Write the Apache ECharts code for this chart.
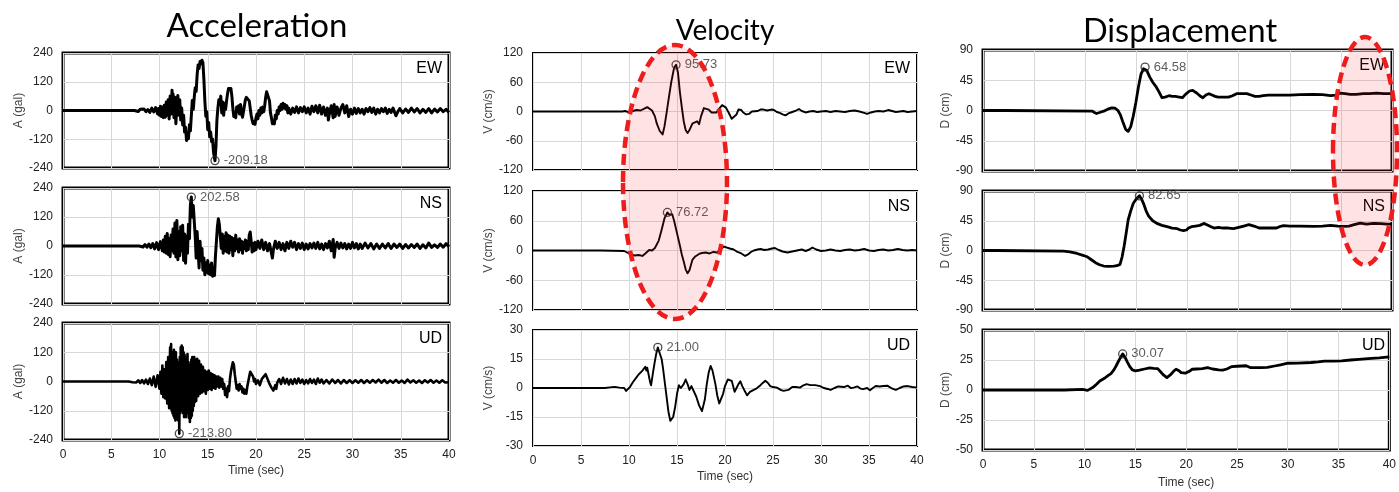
<!DOCTYPE html>
<html><head><meta charset="utf-8">
<script src="https://cdn.jsdelivr.net/npm/echarts@6/dist/echarts.min.js"></script>
<style>html,body{margin:0;padding:0;background:#fff}#c{width:1399px;height:492px}</style>
</head><body><div id="c"></div>
<script>
// ---------- DATA (time in s, value) ----------
const timeTicks = [0,5,10,15,20,25,30,35,40];
const components = ['EW','NS','UD'];
const columnTitles = ['Acceleration','Velocity','Displacement'];
const yNames = ['A (gal)','V (cm/s)','D (cm)'];

const accEW = [[0,0],[7.4,0],[7.6,3],[7.8,-4],[8.0,5],[8.2,-3],[8.4,6],[8.6,-5],[8.8,4],[9.0,-8],[9.2,10],[9.4,-6],[9.6,12],[9.8,-14],[9.9,8],[10.0,-20],[10.1,18],[10.2,-25],[10.3,15],[10.4,-30],[10.5,22],[10.6,-28],[10.7,35],[10.8,-20],[10.9,45],[11.0,-35],[11.1,60],[11.2,-15],[11.3,85],[11.35,40],[11.4,70],[11.5,-30],[11.6,55],[11.7,-55],[11.8,30],[11.9,63],[12.0,-20],[12.1,45],[12.2,-40],[12.3,10],[12.4,-60],[12.5,-20],[12.6,-90],[12.7,-70],[12.8,-125],[12.9,-95],[13.0,-118],[13.1,-60],[13.2,-85],[13.3,-20],[13.4,42],[13.5,5],[13.6,55],[13.7,95],[13.8,80],[13.9,150],[14.0,190],[14.1,175],[14.2,205],[14.3,195],[14.4,210],[14.5,200],[14.6,130],[14.7,40],[14.8,-25],[14.9,-5],[15.0,-80],[15.1,-50],[15.2,-110],[15.3,-90],[15.4,-130],[15.5,-120],[15.6,-175],[15.75,-209.18],[15.85,-150],[15.95,-40],[16.05,10],[16.15,45],[16.25,25],[16.35,60],[16.45,-10],[16.55,35],[16.65,-20],[16.75,30],[16.85,5],[16.95,40],[17.05,70],[17.15,92],[17.3,85],[17.4,92],[17.5,60],[17.6,10],[17.7,-25],[17.8,-10],[17.9,-30],[18.0,15],[18.1,-5],[18.2,20],[18.3,-15],[18.4,25],[18.5,-10],[18.6,-28],[18.7,-5],[18.8,20],[18.9,45],[19.0,55],[19.1,50],[19.2,57],[19.3,40],[19.4,10],[19.5,-20],[19.6,-40],[19.7,-55],[19.8,-45],[19.9,-58],[20.0,-30],[20.1,-15],[20.2,-35],[20.3,0],[20.4,-20],[20.5,10],[20.6,-10],[20.7,15],[20.8,-5],[20.9,20],[21.0,55],[21.1,78],[21.2,70],[21.3,78],[21.4,40],[21.5,-10],[21.6,-30],[21.7,-55],[21.8,-45],[21.9,-56],[22.0,-20],[22.1,-35],[22.2,0],[22.3,-15],[22.4,15],[22.5,0],[22.6,25],[22.7,5],[22.8,30],[22.9,10],[23.0,25],[23.1,5],[23.2,20],[23.3,-10],[23.4,10],[23.6,-15],[23.8,10],[24.0,-8],[24.2,15],[24.4,-10],[24.6,12],[24.8,-5],[25.0,15],[25.2,-10],[25.4,10],[25.6,-15],[25.8,18],[26.0,-5],[26.2,20],[26.4,-10],[26.6,22],[26.8,-15],[27.0,15],[27.2,-20],[27.4,10],[27.5,-40],[27.6,-15],[27.8,20],[28.0,-30],[28.1,25],[28.2,-25],[28.4,15],[28.6,-20],[28.8,10],[29.0,25],[29.2,-10],[29.4,20],[29.6,-25],[29.8,5],[30.0,-15],[30.2,10],[30.4,-12],[30.6,8],[30.8,-10],[31.0,5],[31.2,-15],[31.4,8],[31.6,-5],[31.8,12],[32.0,-8],[32.2,10],[32.4,-15],[32.6,5],[32.8,-10],[33.0,8],[33.2,-5],[33.4,10],[33.6,-12],[33.8,5],[34.0,-8],[34.2,10],[34.5,-22],[34.7,-5],[34.9,8],[35.2,-10],[35.5,6],[35.8,-8],[36.1,10],[36.4,-6],[36.7,8],[37.0,-10],[37.3,5],[37.6,-8],[37.9,8],[38.2,-10],[38.5,6],[38.8,-6],[39.1,8],[39.4,-5],[39.7,5],[40,-8]];

const accNS = [[0,0],[7.9,0],[8.1,3],[8.3,-4],[8.5,6],[8.7,-5],[8.9,8],[9.1,-7],[9.3,10],[9.5,-12],[9.7,14],[9.9,-15],[10.1,18],[10.3,-20],[10.4,25],[10.5,-25],[10.6,40],[10.7,-30],[10.8,52],[10.9,-35],[11.0,30],[11.1,-44],[11.2,45],[11.3,-20],[11.4,70],[11.5,-30],[11.6,95],[11.7,-45],[11.8,106],[11.9,-57],[12.0,60],[12.1,-40],[12.2,80],[12.3,-20],[12.4,86],[12.5,-60],[12.6,50],[12.7,-71],[12.8,40],[12.9,-30],[13.0,90],[13.1,30],[13.2,170],[13.3,202.58],[13.4,120],[13.5,168],[13.6,160],[13.7,40],[13.8,-50],[13.9,60],[14.0,-20],[14.1,-91],[14.2,20],[14.3,-60],[14.4,-10],[14.5,-100],[14.6,-50],[14.7,-119],[14.8,-70],[14.9,-110],[15.0,-60],[15.1,-115],[15.2,-80],[15.3,-119],[15.4,-70],[15.5,-125],[15.6,-90],[15.7,-122],[15.8,-40],[15.9,20],[16.0,80],[16.1,113],[16.2,90],[16.3,40],[16.4,-10],[16.5,50],[16.6,-30],[16.7,40],[16.8,-20],[16.9,55],[17.0,-25],[17.1,45],[17.2,-30],[17.3,40],[17.4,-15],[17.5,35],[17.6,-40],[17.7,30],[17.8,-20],[17.9,45],[18.0,-10],[18.1,25],[18.2,-25],[18.3,30],[18.4,-15],[18.5,20],[18.6,-30],[18.7,15],[18.8,-10],[18.9,25],[19.0,-20],[19.1,20],[19.2,-15],[19.3,45],[19.4,58],[19.5,20],[19.6,-25],[19.7,10],[19.8,-20],[19.9,15],[20.0,-15],[20.2,20],[20.4,-10],[20.6,25],[20.8,-15],[21.0,15],[21.2,-20],[21.4,10],[21.6,-30],[21.7,-50],[21.8,-15],[22.0,20],[22.2,-10],[22.4,15],[22.6,-15],[22.8,10],[23.0,-20],[23.2,15],[23.4,-10],[23.6,20],[23.8,-5],[24.0,15],[24.2,-15],[24.4,10],[24.6,-10],[24.8,12],[25.0,-15],[25.2,8],[25.4,-12],[25.6,10],[25.8,-8],[26.0,12],[26.2,-10],[26.4,15],[26.6,-12],[26.8,8],[27.0,-15],[27.2,10],[27.4,-8],[27.6,20],[27.8,-20],[28.0,27],[28.1,-47],[28.2,-10],[28.4,15],[28.6,-10],[28.8,12],[29.0,-8],[29.2,10],[29.4,-12],[29.6,8],[29.8,-10],[30.0,15],[30.2,-8],[30.4,10],[30.6,-12],[30.8,8],[31.0,-10],[31.3,12],[31.6,-8],[31.9,10],[32.2,-12],[32.5,8],[32.8,-10],[33.1,8],[33.4,-8],[33.7,10],[34.0,-10],[34.3,8],[34.6,-6],[34.9,8],[35.2,-10],[35.5,6],[35.8,-8],[36.1,6],[36.4,-6],[36.7,8],[37.0,-10],[37.3,5],[37.6,-8],[37.9,12],[38.2,-6],[38.5,5],[38.8,-6],[39.1,8],[39.4,-5],[39.7,10],[40,-3]];

const accUD = [[0,0],[6.8,0],[7.0,3],[7.2,-3],[7.4,4],[7.6,-4],[7.8,5],[8.0,-6],[8.2,6],[8.4,-8],[8.6,8],[8.8,-10],[9.0,12],[9.2,-15],[9.4,20],[9.6,-22],[9.8,25],[10.0,-30],[10.1,40],[10.2,-50],[10.3,65],[10.4,-64],[10.5,50],[10.6,-70],[10.7,80],[10.8,-90],[10.9,100],[11.0,-110],[11.1,140],[11.15,-100],[11.2,154],[11.25,-119],[11.3,120],[11.35,-130],[11.4,110],[11.45,-140],[11.5,130],[11.55,-150],[11.6,100],[11.65,-160],[11.7,120],[11.75,-140],[11.8,90],[11.85,-155],[11.9,80],[11.95,-160],[12.0,60],[12.05,-213.8],[12.1,100],[12.15,-130],[12.2,140],[12.25,-120],[12.3,147],[12.35,-100],[12.4,140],[12.45,-130],[12.5,120],[12.55,-146],[12.6,110],[12.65,-120],[12.7,100],[12.75,-146],[12.8,90],[12.85,-130],[12.9,113],[12.95,-120],[13.0,80],[13.05,-150],[13.1,70],[13.15,-166],[13.2,60],[13.25,-150],[13.3,90],[13.35,-140],[13.4,100],[13.45,-120],[13.5,80],[13.55,-100],[13.6,100],[13.65,-85],[13.7,90],[13.8,-80],[13.9,93],[14.0,-60],[14.1,85],[14.2,-50],[14.3,70],[14.4,-45],[14.5,60],[14.6,-40],[14.7,45],[14.8,-50],[14.9,40],[15.0,-35],[15.1,45],[15.2,-30],[15.3,35],[15.4,-35],[15.5,30],[15.6,-25],[15.7,25],[15.8,-30],[15.9,20],[16.0,-20],[16.1,20],[16.2,-25],[16.3,15],[16.4,-20],[16.5,10],[16.6,-30],[16.7,-10],[16.8,-55],[16.9,-30],[17.0,-64],[17.1,-20],[17.2,-40],[17.3,10],[17.4,40],[17.5,60],[17.6,79],[17.7,70],[17.8,30],[17.9,0],[18.0,-30],[18.1,-15],[18.2,-37],[18.3,-10],[18.4,-30],[18.5,-20],[18.6,-45],[18.7,-30],[18.8,-50],[18.9,-35],[19.0,-50],[19.1,-20],[19.2,0],[19.3,20],[19.4,40],[19.5,45],[19.6,35],[19.7,20],[19.8,0],[19.9,10],[20.0,-10],[20.2,5],[20.4,-15],[20.6,10],[20.8,20],[21.0,30],[21.1,20],[21.2,25],[21.4,-10],[21.6,-25],[21.8,-37],[22.0,-15],[22.1,-30],[22.2,-5],[22.4,10],[22.6,-10],[22.8,15],[23.0,-8],[23.2,10],[23.4,-12],[23.6,8],[23.8,-10],[24.0,10],[24.2,-8],[24.4,12],[24.6,-6],[24.8,8],[25.0,-10],[25.2,6],[25.4,-8],[25.6,10],[25.8,-6],[26.0,8],[26.2,-10],[26.4,12],[26.6,-5],[26.8,8],[27.0,-8],[27.3,6],[27.6,-8],[27.9,8],[28.2,-6],[28.5,6],[28.8,-8],[29.1,6],[29.4,-6],[29.7,5],[30.0,-6],[30.3,5],[30.6,-5],[30.9,6],[31.2,-6],[31.5,5],[31.8,-5],[32.1,6],[32.4,-4],[32.7,8],[33.0,-5],[33.3,6],[33.6,-6],[33.9,4],[34.2,-5],[34.5,6],[34.8,-5],[35.1,4],[35.4,-6],[35.7,8],[36.0,-4],[36.3,5],[36.6,-5],[36.9,4],[37.2,-6],[37.5,5],[37.8,-4],[38.1,6],[38.4,-5],[38.7,4],[39.0,-5],[39.3,5],[39.6,-4],[40,-3]];

const velEW = [[0,0],[9.3,0],[9.6,1],[10.0,-2],[10.4,1],[10.8,3],[11.2,2],[11.6,6],[11.9,9],[12.1,6],[12.4,2],[12.7,-10],[12.9,-25],[13.2,-40],[13.5,-47],[13.7,-30],[13.9,-5],[14.1,22],[14.4,60],[14.7,90],[14.9,95.73],[15.1,80],[15.3,40],[15.5,9],[15.7,-20],[15.9,-38],[16.1,-44],[16.3,-38],[16.6,-25],[16.8,-22],[17.1,-20],[17.3,-26],[17.5,-10],[17.8,7],[18.0,8],[18.3,4],[18.6,-2],[18.8,-6],[19.1,-2],[19.4,6],[19.7,13],[19.9,14],[20.1,8],[20.4,-3],[20.7,-15],[20.9,-17],[21.2,-6],[21.4,4],[21.7,3],[21.9,-2],[22.2,-6],[22.5,-5],[22.8,0],[23.0,2],[23.4,1],[23.7,4],[24.0,4],[24.4,2],[24.8,4],[25.1,3],[25.4,-1],[25.7,-3],[26.0,-6],[26.3,-8],[26.6,-4],[27.0,-1],[27.4,2],[27.7,5],[28.0,1],[28.4,-2],[28.8,0],[29.2,1],[29.6,-1],[30.0,0],[30.5,1],[31.0,-1],[31.5,1],[32.0,0],[32.5,-1],[33.0,1],[33.5,2],[34.0,0],[34.5,-3],[34.8,-5],[35.2,-2],[35.6,0],[36.0,1],[36.5,0],[37.0,3],[37.4,1],[37.8,-1],[38.2,0],[38.6,1],[39.0,-1],[39.5,0],[40,1]];

const velNS = [[0,0],[7.0,0],[7.1,-1],[9.5,-1],[9.8,-4],[10.2,-8],[10.6,-10],[11.0,-9],[11.4,-11],[11.7,-6],[11.9,-3],[12.1,1],[12.4,0],[12.7,5],[12.9,8],[13.1,20],[13.4,42],[13.7,65],[14.0,76.72],[14.2,72],[14.5,73],[14.7,60],[15.0,35],[15.3,10],[15.5,-8],[15.7,-22],[15.9,-38],[16.1,-46],[16.3,-40],[16.6,-19],[16.9,-12],[17.3,-7],[17.6,-5],[18.0,-4],[18.4,-6],[18.8,-3],[19.2,-4],[19.5,2],[19.9,8],[20.2,6],[20.5,4],[20.9,2],[21.3,-3],[21.7,-6],[22.1,-11],[22.4,-8],[22.7,-3],[23.0,0],[23.4,2],[23.7,3],[24.1,1],[24.5,2],[24.9,4],[25.2,5],[25.6,1],[26.0,-2],[26.5,-4],[27.0,-2],[27.5,0],[28.0,2],[28.4,-1],[28.8,2],[29.1,6],[29.5,2],[30.0,-1],[30.5,0],[31.0,2],[31.5,0],[32.0,-1],[32.5,1],[33.0,2],[33.5,0],[34.0,1],[34.5,3],[35.0,0],[35.5,-1],[36.0,1],[36.5,2],[37.0,0],[37.5,1],[38.0,3],[38.5,1],[39.0,0],[39.5,1],[40,0]];

const velUD = [[0,0],[7.5,0],[8.0,0.3],[8.5,0.6],[9.0,0.2],[9.2,1],[9.5,0],[9.7,-1.5],[9.9,-1],[10.1,0.5],[10.4,3],[10.7,5],[11.0,7],[11.2,8],[11.4,9],[11.5,10],[11.7,11],[11.8,9],[11.9,10.5],[12.0,8],[12.2,3],[12.3,1.4],[12.5,8],[12.7,14],[12.85,18],[13.0,21.0],[13.2,18],[13.4,15],[13.55,10],[13.7,4],[13.9,-4],[14.1,-12],[14.3,-17],[14.4,-18],[14.6,-15],[14.8,-10],[15.0,-3],[15.2,1.4],[15.4,0],[15.5,-1],[15.7,2],[15.9,4.4],[16.1,2],[16.3,-1],[16.5,1],[16.7,0],[17.0,-4.4],[17.3,-9],[17.6,-12],[17.9,-6],[18.1,2],[18.3,8],[18.5,11.4],[18.7,9],[19.0,2],[19.2,-4],[19.4,-8],[19.6,-7],[19.8,-3],[20.0,1],[20.3,4.4],[20.5,4],[20.7,3.7],[20.9,0],[21.0,-2],[21.2,0],[21.4,2],[21.6,3.5],[21.8,1],[22.0,-1],[22.3,-3.8],[22.6,-2],[22.9,-1.2],[23.2,-0.5],[23.6,1],[23.9,2.5],[24.2,3.7],[24.5,2.5],[24.7,1],[25.0,0.5],[25.4,0.2],[25.8,-1],[26.1,-1.5],[26.3,-2],[26.6,-1],[27.0,0.5],[27.4,0.5],[27.8,0.2],[28.1,1.2],[28.5,2],[28.9,1.5],[29.4,1.5],[29.9,1],[30.3,0],[30.7,-0.5],[31.0,-1],[31.4,0],[31.8,0.8],[32.0,1],[32.4,0.5],[32.8,1.2],[33.1,0],[33.4,0.2],[33.8,0.8],[34.1,-0.3],[34.4,-0.6],[34.8,0],[35.1,-1.2],[35.4,0],[35.7,1],[36.1,0.8],[36.5,1],[36.9,1.2],[37.2,0.3],[37.5,-0.5],[37.8,-1],[38.2,0],[38.6,0.8],[39.0,1],[39.5,0.5],[40,0.2]];

const dispEW = [[0,0],[2.1,0],[2.2,-1],[10.7,-1],[10.9,-3],[11.1,-4.5],[11.4,-3],[11.8,-1],[12.2,2],[12.6,4],[12.9,3.5],[13.2,0],[13.45,-7],[13.7,-18],[13.95,-28],[14.2,-31],[14.45,-24],[14.7,-8],[14.95,12],[15.2,35],[15.45,54],[15.7,62],[15.85,64.58],[16.0,60],[16.3,50],[16.6,42],[16.9,36],[17.2,28],[17.5,19],[17.8,20],[18.2,22],[18.5,21],[18.8,21],[19.2,20],[19.5,19],[19.8,24],[20.2,29],[20.5,30],[20.9,26],[21.2,22],[21.5,19],[21.8,23],[22.1,25],[22.4,23],[22.7,21],[23.0,20],[23.5,20],[24.0,20],[24.4,22],[24.8,25],[25.3,25],[25.8,25],[26.2,23],[26.6,21],[27.0,21],[27.4,22],[27.9,23],[28.4,23],[29.0,23],[30.0,23],[31.0,23.5],[32.3,24],[33.2,23.5],[34.0,22],[34.5,23],[34.9,26],[35.4,25],[35.9,24],[36.5,24],[37.2,25],[37.8,25],[38.5,26],[39.2,25],[40,25]];

const dispNS = [[0,0],[1.3,0],[1.4,-1],[7.9,-1],[8.5,-2],[9.2,-4.5],[9.7,-7],[10.2,-9.5],[10.6,-14],[11.0,-18.5],[11.4,-21.5],[11.8,-23.5],[12.3,-24],[12.8,-23.5],[13.1,-23],[13.4,-21],[13.6,-10],[13.8,6.5],[14.0,26],[14.2,46.5],[14.45,60],[14.7,71.5],[15.0,78],[15.3,82.65],[15.5,78],[15.7,71],[15.95,60],[16.2,52],[16.6,45],[17.0,41],[17.5,38],[18.0,36],[18.5,34],[19.0,33],[19.3,31],[19.6,30],[19.9,31],[20.1,34],[20.4,36],[20.8,37],[21.2,38],[21.6,41],[21.9,39],[22.3,36],[22.6,34],[23.0,35],[23.5,34],[24.0,34],[24.5,33],[25.0,35],[25.5,37],[26.0,39],[26.5,37],[27.0,34],[27.5,34],[28.0,34],[28.7,34],[29.0,36],[29.4,37.5],[30.0,37],[31.0,37],[32.3,36.5],[33.2,37],[34.0,38],[34.7,37],[35.3,36.5],[35.8,37],[36.3,39],[36.9,41.5],[37.5,40],[38.2,41],[38.9,40.5],[39.5,40],[40,40]];

const dispUD = [[0,0],[8.0,0],[8.1,0.5],[9.8,0.5],[10.3,-0.3],[10.8,2],[11.2,5],[11.5,7.5],[12.0,10],[12.3,12],[12.6,13.7],[12.9,17],[13.1,20],[13.4,25],[13.75,30.07],[14.0,27],[14.2,23.5],[14.45,19.5],[14.7,16.7],[15.0,16],[15.4,16.5],[15.9,17.5],[16.4,18.4],[16.8,18],[17.2,17.8],[17.5,15],[17.7,13],[18.1,10.3],[18.5,13],[18.8,16],[19.0,17.3],[19.3,16],[19.5,14.5],[19.9,14],[20.3,15.5],[20.6,17.3],[21.0,17.5],[21.6,17.8],[22.1,18.7],[22.6,17.5],[23.2,16.7],[23.6,16.5],[24.0,17.5],[24.5,19.5],[25.0,19.8],[25.5,20],[25.9,20.2],[26.3,18.7],[27.0,18.7],[27.4,18.7],[28.0,18.8],[28.7,20],[29.3,21],[30.0,22.3],[31.0,22.4],[32.3,22.9],[33.0,23.4],[33.6,24],[34.5,24],[35.3,24.3],[36.2,25],[37.0,25.6],[37.9,26.2],[39.0,26.8],[40,27.6]];

// peak markers [time, value]
const peakAccEW = [15.75, -209.18];
const peakAccNS = [13.3, 202.58];
const peakAccUD = [12.05, -213.80];
const peakVelEW = [14.9, 95.73];
const peakVelNS = [14.0, 76.72];
const peakVelUD = [13.0, 21.00];
const peakDispEW = [15.85, 64.58];
const peakDispNS = [15.3, 82.65];
const peakDispUD = [13.75, 30.07];

// y axis ranges [min, max, interval]
const yRangeAcc = [-240, 240, 120];
const yRangeVel = [-120, 120, 60];
const yRangeVelUD = [-30, 30, 15];
const yRangeDisp = [-90, 90, 45];
const yRangeDispUD = [-50, 50, 25];

// ---------- LAYOUT ----------
const panels = [
  {d:accEW, p:peakAccEW, r:yRangeAcc, col:0, row:0, g:[63,53,386,115], lw:3, bw:3},
  {d:accNS, p:peakAccNS, r:yRangeAcc, col:0, row:1, g:[63,188,386,116], lw:3, bw:3},
  {d:accUD, p:peakAccUD, r:yRangeAcc, col:0, row:2, g:[63,323,386,117], lw:2.6, bw:3},
  {d:velEW, p:peakVelEW, r:yRangeVel, col:1, row:0, g:[533,53,384,117], lw:1.9, bw:2},
  {d:velNS, p:peakVelNS, r:yRangeVel, col:1, row:1, g:[533,191,384,119], lw:1.9, bw:2},
  {d:velUD, p:peakVelUD, r:yRangeVelUD, col:1, row:2, g:[533,330,384,116], lw:1.9, bw:2},
  {d:dispEW, p:peakDispEW, r:yRangeDisp, col:2, row:0, g:[983,50,409,121], lw:2.8, bw:3},
  {d:dispNS, p:peakDispNS, r:yRangeDisp, col:2, row:1, g:[983,191,409,119], lw:2.8, bw:3},
  {d:dispUD, p:peakDispUD, r:yRangeDispUD, col:2, row:2, g:[983,330,409,120], lw:2.8, bw:3}
];
const yNameGap = [30, 38, 30];
const xNameGap = [25, 25, 27];

const FONT = '"Liberation Sans", Arial, sans-serif';
const grids = [], xAxes = [], yAxes = [], series = [], graphics = [];

panels.forEach((pn, i) => {
  const [l, t, w, h] = pn.g;
  grids.push({left:l, top:t, width:w, height:h, show:true, borderColor:'#000', borderWidth:pn.bw, backgroundColor:'transparent'});
  const bottom = pn.row === 2;
  xAxes.push({
    type:'value', gridIndex:i, min:timeTicks[0], max:timeTicks[timeTicks.length-1], interval:timeTicks[1]-timeTicks[0],
    axisLine:{show:false}, axisTick:{show:false},
    axisLabel:{show:bottom, color:'#222', fontSize:12, fontFamily:FONT, margin:9},
    splitLine:{show:true, lineStyle:{color:'#d8d8d8', width:1}},
    name: bottom ? 'Time (sec)' : '', nameLocation:'middle', nameGap:xNameGap[pn.col],
    nameTextStyle:{color:'#333', fontSize:12, fontFamily:FONT}
  });
  yAxes.push({
    type:'value', gridIndex:i, min:pn.r[0], max:pn.r[1], interval:pn.r[2],
    axisLine:{show:false}, axisTick:{show:false},
    axisLabel:{color:'#222', fontSize:12, fontFamily:FONT, margin:10},
    splitLine:{show:true, lineStyle:{color:'#d8d8d8', width:1}},
    name:yNames[pn.col], nameLocation:'middle', nameGap:yNameGap[pn.col],
    nameTextStyle:{color:'#444', fontSize:12, fontFamily:FONT}
  });
  series.push({
    type:'line', xAxisIndex:i, yAxisIndex:i, data:pn.d, showSymbol:false, symbol:'none',
    lineStyle:{color:'#000', width:pn.lw, join:'round'}, silent:true, z:3
  });
  series.push({
    type:'scatter', xAxisIndex:i, yAxisIndex:i, data:[pn.p], symbol:'circle', symbolSize:8,
    itemStyle:{color:'rgba(255,255,255,0)', borderColor:'#222', borderWidth:1.3}, z:5,
    label:{show:true, position:'right', distance:4, fontSize:13, fontFamily:FONT, color:'#333',
      formatter:(o)=>o.value[1].toFixed(2)}
  });
  graphics.push({type:'text', x:l + w - 7, y:t + 8, z:10,
    style:{text:components[pn.row], fontSize:16, fontFamily:FONT, fill:'#000', align:'right', verticalAlign:'top'}});
});

// column titles
const titleX = [257, 725, 1180];
const titleY = [26, 31, 32];
const titleSize = [33, 28, 32.5];
columnTitles.forEach((tx, c) => {
  graphics.push({type:'text', x:titleX[c], y:titleY[c], z:10,
    style:{text:tx, fontSize:titleSize[c], fontFamily:'Lato, "Open Sans", sans-serif', fill:'#000', align:'center', verticalAlign:'middle'}});
});

// red dashed ellipses (annotation)
graphics.push({type:'ellipse', shape:{cx:675, cy:182, rx:52, ry:137}, z:20,
  style:{fill:'rgba(240,40,40,0.13)', stroke:'#ee1c1c', lineWidth:4.5, lineDash:[11,6]}});
graphics.push({type:'ellipse', shape:{cx:1365, cy:151, rx:32, ry:114}, z:20,
  style:{fill:'rgba(240,40,40,0.13)', stroke:'#ee1c1c', lineWidth:4.5, lineDash:[11,6]}});

const chart = echarts.init(document.getElementById('c'), null, {renderer:'canvas'});
chart.setOption({
  animation:false, backgroundColor:'#fff',
  grid:grids, xAxis:xAxes, yAxis:yAxes, series:series, graphic:graphics
});
</script></body></html>
